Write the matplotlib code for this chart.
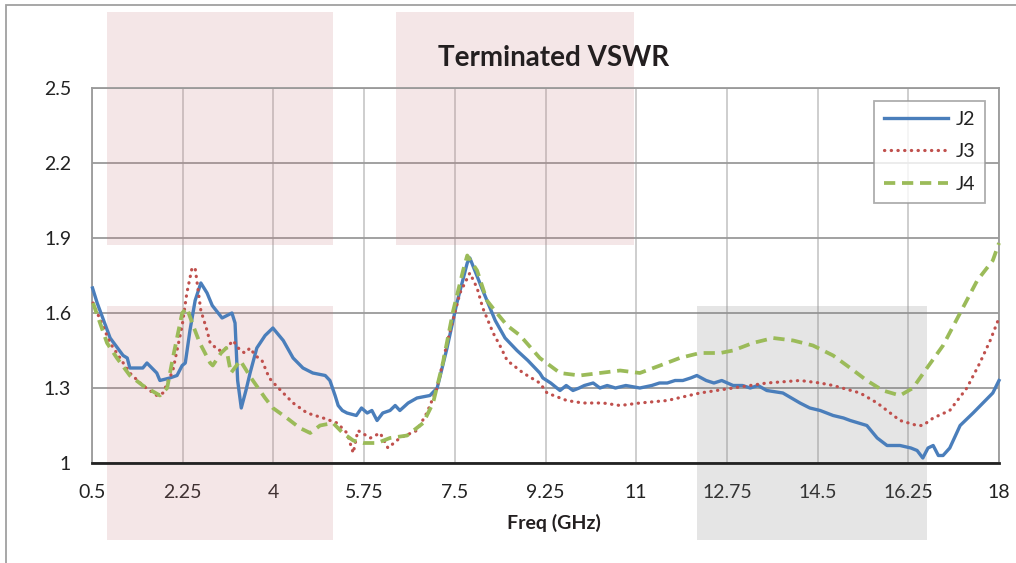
import matplotlib
matplotlib.use("Agg")
import matplotlib.pyplot as plt
from matplotlib.patches import Rectangle
import numpy as np

# ---------------- data ----------------
j2_f = [0.51, 0.60, 0.85, 1.10, 1.18, 1.23, 1.48, 1.56, 1.75, 1.81, 2.00, 2.14, 2.24, 2.30,
        2.39, 2.49, 2.60, 2.72, 2.82, 3.01, 3.20, 3.26, 3.31, 3.38, 3.47, 3.55, 3.68, 3.84,
        3.99, 4.19, 4.38, 4.57, 4.76, 5.00, 5.09, 5.19, 5.25, 5.33, 5.42, 5.60, 5.70, 5.81,
        5.90, 6.00, 6.11, 6.25, 6.35, 6.44, 6.60, 6.77, 7.02, 7.16, 7.35, 7.54, 7.74, 7.79,
        8.04, 8.28, 8.47, 8.70, 8.91, 9.14, 9.20, 9.35, 9.53, 9.65, 9.78, 9.90, 10.00, 10.17,
        10.30, 10.44, 10.60, 10.80, 11.07, 11.30, 11.45, 11.60, 11.75, 11.90, 12.05, 12.17,
        12.35, 12.50, 12.65, 12.87, 13.05, 13.20, 13.35, 13.52, 13.83, 14.16, 14.35, 14.55,
        14.80, 15.00, 15.13, 15.45, 15.65, 15.84, 16.09, 16.30, 16.42, 16.53, 16.63, 16.73,
        16.83, 16.92, 17.05, 17.25, 17.50, 17.69, 17.88, 18.00]
j2_v = [1.70, 1.64, 1.50, 1.43, 1.42, 1.38, 1.38, 1.40, 1.36, 1.33, 1.34, 1.35, 1.39, 1.40,
        1.53, 1.65, 1.72, 1.68, 1.63, 1.58, 1.60, 1.56, 1.33, 1.22, 1.29, 1.36, 1.46, 1.51,
        1.54, 1.49, 1.42, 1.38, 1.36, 1.35, 1.33, 1.27, 1.23, 1.21, 1.20, 1.19, 1.22, 1.20,
        1.21, 1.17, 1.20, 1.21, 1.23, 1.21, 1.24, 1.26, 1.27, 1.30, 1.46, 1.64, 1.80, 1.82,
        1.69, 1.57, 1.50, 1.45, 1.41, 1.36, 1.34, 1.32, 1.29, 1.31, 1.29, 1.30, 1.31, 1.32,
        1.30, 1.31, 1.30, 1.31, 1.30, 1.31, 1.32, 1.32, 1.33, 1.33, 1.34, 1.35,
        1.33, 1.32, 1.33, 1.31, 1.31, 1.30, 1.31, 1.29, 1.28, 1.24, 1.22, 1.21,
        1.19, 1.18, 1.17, 1.15, 1.10, 1.07, 1.07, 1.06, 1.05, 1.02, 1.06, 1.07,
        1.03, 1.03, 1.06, 1.15, 1.20, 1.24, 1.28, 1.33]

j3_f = [0.52, 0.85, 1.04, 1.23, 1.48, 1.75, 1.87, 2.06, 2.24, 2.33, 2.43, 2.49, 2.60, 2.72,
        2.78, 2.95, 3.10, 3.22, 3.36, 3.45, 3.55, 3.65, 3.78, 3.92, 4.05, 4.19, 4.38, 4.65,
        4.96, 5.23, 5.42, 5.54, 5.63, 5.87, 6.06, 6.21, 6.44, 6.77, 6.96, 7.16, 7.35, 7.60,
        7.79, 7.93, 8.04, 8.24, 8.37, 8.51, 8.82, 9.14, 9.28, 9.66, 9.97, 10.36, 10.69, 11.07,
        11.60, 12.23, 12.87, 13.52, 14.16, 14.55, 14.80, 15.32, 15.65, 16.09, 16.42, 16.53,
        16.73, 17.05, 17.38, 17.63, 17.83, 18.00]
j3_v = [1.64, 1.48, 1.42, 1.36, 1.31, 1.27, 1.28, 1.37, 1.55, 1.68, 1.78, 1.78, 1.61, 1.53,
        1.48, 1.45, 1.46, 1.49, 1.45, 1.44, 1.46, 1.43, 1.41, 1.34, 1.31, 1.28, 1.24, 1.20,
        1.18, 1.16, 1.12, 1.04, 1.13, 1.10, 1.12, 1.06, 1.10, 1.13, 1.20, 1.30, 1.48, 1.68,
        1.76, 1.70, 1.62, 1.52, 1.47, 1.41, 1.36, 1.32, 1.28, 1.25, 1.24, 1.24, 1.23, 1.24,
        1.25, 1.28, 1.30, 1.32, 1.33, 1.32, 1.31, 1.28, 1.24, 1.17, 1.15, 1.15,
        1.18, 1.21, 1.30, 1.40, 1.49, 1.58]

j4_f = [0.52, 0.79, 0.98, 1.23, 1.48, 1.81, 1.95, 2.06, 2.24, 2.33, 2.45, 2.58, 2.78, 2.83,
        2.99, 3.09, 3.18, 3.36, 3.57, 3.84, 3.99, 4.26, 4.51, 4.71, 4.90, 5.15, 5.34, 5.54,
        5.73, 6.00, 6.25, 6.58, 6.89, 7.08, 7.27, 7.47, 7.66, 7.74, 7.93, 8.12, 8.31, 8.51,
        8.76, 9.14, 9.53, 9.91, 10.30, 10.69, 11.07, 11.46, 11.84, 12.23, 12.62, 12.87, 13.25,
        13.64, 14.03, 14.41, 14.80, 15.13, 15.45, 15.76, 16.09, 16.34, 16.61, 16.92, 17.25,
        17.58, 17.88, 18.00]
j4_v = [1.64, 1.48, 1.42, 1.35, 1.31, 1.27, 1.30, 1.42, 1.60, 1.62, 1.55, 1.48, 1.40, 1.39,
        1.44, 1.46, 1.36, 1.41, 1.34, 1.26, 1.22, 1.18, 1.14, 1.12, 1.15, 1.16, 1.12, 1.09,
        1.08, 1.08, 1.10, 1.11, 1.16, 1.24, 1.40, 1.61, 1.77, 1.83, 1.77, 1.65, 1.60, 1.55,
        1.51, 1.42, 1.36, 1.35, 1.36, 1.37, 1.36, 1.39, 1.42, 1.44, 1.44, 1.45, 1.48,
        1.50, 1.49, 1.47, 1.43, 1.38, 1.33, 1.29, 1.27, 1.30, 1.38, 1.47, 1.60,
        1.73, 1.81, 1.88]

series_names = ["J2", "J3", "J4"]
x_ticks = [0.5, 2.25, 4, 5.75, 7.5, 9.25, 11, 12.75, 14.5, 16.25, 18]
x_tick_labels = ["0.5", "2.25", "4", "5.75", "7.5", "9.25", "11", "12.75", "14.5", "16.25", "18"]
y_ticks = [1, 1.3, 1.6, 1.9, 2.2, 2.5]
y_tick_labels = ["1", "1.3", "1.6", "1.9", "2.2", "2.5"]

# shaded highlight regions (freq range, vswr range)
pink_boxes = [((0.79, 5.15), (1.872, 2.804)),
              ((6.37, 10.96), (1.872, 2.804)),
              ((0.79, 5.15), (0.692, 1.628))]
gray_boxes = [((12.17, 16.61), (0.692, 1.628))]

# ---------------- plot ----------------
plt.rcParams['font.family'] = ['Lato', 'DejaVu Sans']

W, H = 1016, 563
fig = plt.figure(figsize=(W / 100, H / 100), dpi=100)
ax = fig.add_axes([92 / W, 1 - 463 / H, (999 - 92) / W, (463 - 88) / H])

ax.set_xlim(0.5, 18)
ax.set_ylim(1, 2.5)
ax.set_xticks(x_ticks)
ax.set_xticklabels(x_tick_labels)
ax.set_yticks(y_ticks)
ax.set_yticklabels(y_tick_labels)
ax.tick_params(axis='both', length=0, labelsize=14, colors='#222222')
ax.tick_params(axis='x', pad=15)
ax.tick_params(axis='y', pad=15)

ax.set_axisbelow(True)
ax.yaxis.grid(True, color='#9a9a9a', linewidth=1.3)
ax.xaxis.grid(True, color='#cacaca', linewidth=1.3)

for s in ['left', 'right', 'top']:
    ax.spines[s].set_color('#9a9a9a')
    ax.spines[s].set_linewidth(1.3)
ax.spines['bottom'].set_color('#222222')
ax.spines['bottom'].set_linewidth(2.0)

for (x0, x1), (y0, y1) in pink_boxes:
    ax.add_patch(Rectangle((x0, y0), x1 - x0, y1 - y0, facecolor=(0.78, 0.47, 0.49),
                           alpha=0.18, edgecolor='none', clip_on=False, zorder=1.5))
for (x0, x1), (y0, y1) in gray_boxes:
    ax.add_patch(Rectangle((x0, y0), x1 - x0, y1 - y0, facecolor=(0.5, 0.5, 0.5),
                           alpha=0.2, edgecolor='none', clip_on=False, zorder=1.5))

l2, = ax.plot(j2_f, j2_v, color='#4a7ebb', linewidth=2.4, solid_joinstyle='round',
              label=series_names[0], zorder=3, clip_on=False)
l3, = ax.plot(j3_f, j3_v, color='#c0504d', linewidth=2.3, linestyle=(0, (0.1, 2.0)),
              dash_capstyle='round', label=series_names[1], zorder=3, clip_on=False)
l4, = ax.plot(j4_f, j4_v, color='#9bbb59', linewidth=2.7, linestyle=(0, (3.0, 1.8)),
              label=series_names[2], zorder=3, clip_on=False)

leg = ax.legend(handles=[l2, l3, l4], loc='upper right',
                bbox_to_anchor=(985 / W, 1 - 101 / H), bbox_transform=fig.transFigure,
                borderaxespad=0, frameon=True, fancybox=False, fontsize=14,
                handlelength=3.3, labelspacing=0.8, borderpad=0.5, handletextpad=0.4)
leg.get_frame().set_edgecolor('#9a9a9a')
leg.get_frame().set_linewidth(1.3)
for t in leg.get_texts():
    t.set_color('#222222')

fig.text(554 / W, 1 - 58 / H, "Terminated VSWR", ha='center', va='center',
         fontsize=20, fontweight='bold', color='#231f20')
fig.text(554 / W, 1 - 523 / H, "Freq (GHz)", ha='center', va='center',
         fontsize=14, fontweight='bold', color='#231f20')

# outer chart border (left and top visible)
fig.add_artist(Rectangle((6 / W, -0.1), 1.2, 1 - 5 / H + 0.1, transform=fig.transFigure,
                         fill=False, edgecolor='#a0a0a0', linewidth=1.3))

fig.savefig("out.png", dpi=100)
